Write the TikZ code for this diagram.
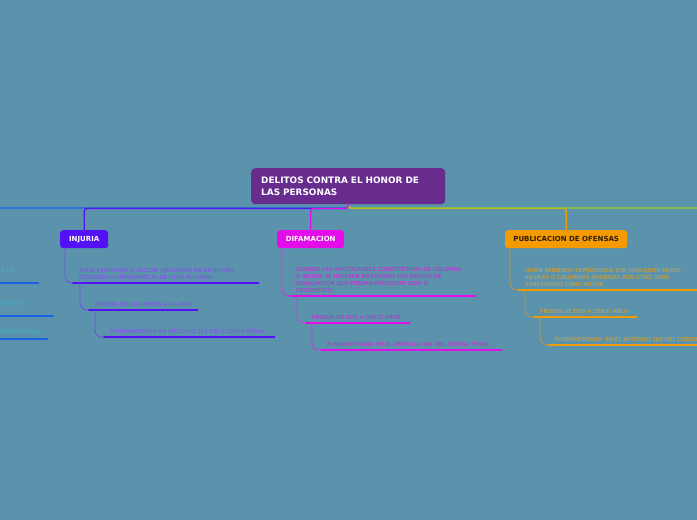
\documentclass[tikz,border=0pt]{standalone}
\usepackage{fontspec}
\setmainfont{DejaVu Sans}
\usetikzlibrary{positioning}
\definecolor{board}    {HTML}{5B93AD}
\definecolor{rootfill} {HTML}{682C8E}
\definecolor{injc}     {HTML}{5511F5}
\definecolor{difc}     {HTML}{E40CE8}
\definecolor{pubc}     {HTML}{F49A02}
\definecolor{leftc}    {HTML}{1A5FE6}
\definecolor{rightc}   {HTML}{96CF24}
\definecolor{injtext}  {HTML}{8B45F2}
\definecolor{diftext}  {HTML}{D11ED6}
\definecolor{pubtext}  {HTML}{E9A21A}
\definecolor{lefttext} {HTML}{3CB4C6}
\definecolor{injline}  {HTML}{6B4FE3}
\definecolor{difline}  {HTML}{C63CD2}
\definecolor{publine}  {HTML}{C19445}
\tikzset{
  every node/.style={font=\fontsize{5.5}{7}\selectfont},
  % --- nodes
  rootbox/.style = {rounded corners=4pt, fill=rootfill, text=white, align=left,
                    anchor=north west, minimum width=194pt, minimum height=36pt,
                    text width=174pt, inner xsep=10pt,
                    font=\fontsize{8.9}{11.5}\selectfont\bfseries},
  topic/.style   = {rounded corners=3pt, anchor=north west, minimum height=18pt,
                    inner sep=0pt, text=white,
                    font=\fontsize{7}{8}\selectfont\bfseries},
  leaf/.style    = {anchor=south west, align=left, inner xsep=6pt, inner ysep=3pt},
  far/.style     = {anchor=base east, inner sep=0pt, text=lefttext},
  % --- edges
  hub/.style     = {line width=1.3pt, rounded corners=3pt},
  link/.style    = {line width=0.8pt, rounded corners=7pt},
  ul/.style      = {line width=2.6pt, line cap=round},
}
\begin{document}
\begin{tikzpicture}[x=1pt,y=-1pt]
  \useasboundingbox (0,0) rectangle (697,520);
  \clip (0,0) rectangle (697,520);
  \fill[board] (0,0) rectangle (697,520);

  % --- central topic and branches
  \node[rootbox] (root) at (251,168) {DELITOS CONTRA EL HONOR DE\\LAS PERSONAS};
  \node[topic, fill=injc, minimum width=48pt] (inj) at (60,230) {INJURIA};
  \node[topic, fill=difc, minimum width=67pt] (dif) at (277,230) {DIFAMACION};
  \node[topic, fill=pubc, minimum width=122pt, text=black!80!pubc] (pub) at (505,230)
    {PUBLICACION DE OFENSAS};
  \coordinate (westend) at (-30,208);
  \coordinate (eastend) at (730,208);

  \draw[hub, leftc] (root.south) |- (westend);
  \draw[hub, pubc] (root.south) -- ++(0,4) -| (pub.north);
  \draw[hub, injc] (root.south) -- ++(0,4) -| (inj.north);
  \draw[hub, rightc] (root.south) |- (eastend);
  \draw[hub, difc] (root.south) -- ++(0,4) -| (dif.north);

  % --- injuria
  \node[leaf, text width=173pt, text=injtext] (inj1) at (73,283)
    {TODA EXPRESION O ACCION\ \ EJECUTADA EN DESHONRA,\\DESCREDITO MENOSPRECIO DE OTRA PERSONA};
  \node[leaf, text width=96pt, text=injtext] (inj2) at (89,310) {PRISION DE DOS MESES A UN AÑO};
  \node[leaf, text width=158pt, text=injtext] (inj3) at (104,337)
    {FUNDAMENTADO EN ARTICULO 161 DEL CODIGO PENAL};
  \foreach \n in {inj1,inj2,inj3}
    \draw[ul, injc] (\n.south west) -- (\n.south east);
  \draw[link, injline] ([xshift=5pt]inj.south west) |- (inj1.south west);
  \draw[link, injline] ([xshift=7pt]inj1.south west) |- (inj2.south west);
  \draw[link, injline] ([xshift=6pt]inj2.south west) |- (inj3.south west);

  % --- difamacion
  \node[leaf, text width=173pt, text=diftext] (dif1) at (290,296)
    {CUANDO LAS IMPUTACIONES CONSTITUTIVAS DE CALUMNIA\\O INJURIA SE HICIEREN EN FORMAO POR MEDIOS DE\\DIVULGACION QUE PUEDAN PROVOCAR ODIO O\\DESCREDITO.};
  \node[leaf, text width=91pt, text=diftext] (dif2) at (306,323) {PRISION DE DOS A CINCO AÑOS.};
  \node[leaf, text width=168pt, text=diftext] (dif3) at (321,350)
    {FUNDAMENTADO EN EL ARTICULO 164 DEL CODIGO PENAL.};
  \foreach \n in {dif1,dif2,dif3}
    \draw[ul, difc] (\n.south west) -- (\n.south east);
  \draw[link, difline] ([xshift=5pt]dif.south west) |- (dif1.south west);
  \draw[link, difline] ([xshift=7pt]dif1.south west) |- (dif2.south west);
  \draw[link, difline] ([xshift=6pt]dif2.south west) |- (dif3.south west);

  % --- publicacion de ofensas
  \node[leaf, text width=190pt, text=pubtext] (pub1) at (519,290)
    {QUIEN SABIENDO REPRODUSCA POR CUALQUIER MEDIO,\\INJURIAS O CALUMNIAS INFERIDAS POR OTRO, SERA\\SANCIONADO COMO AUTOR.};
  \node[leaf, text width=90pt, text=pubtext] (pub2) at (534,317) {PRISION DE DOS A CINCO AÑOS};
  \node[leaf, text width=190pt, text=pubtext] (pub3) at (549,345)
    {FUNDAMENTADO\ \ EN EL ARTICULO 165 DEL CODIGO PENAL.};
  \foreach \n in {pub1,pub2,pub3}
    \draw[ul, pubc] (\n.south west) -- (\n.south east);
  \draw[link, publine] ([xshift=5pt]pub.south west) |- (pub1.south west);
  \draw[link, publine] ([xshift=6pt]pub1.south west) |- (pub2.south west);
  \draw[link, publine] ([xshift=6pt]pub2.south west) |- (pub3.south west);

  % --- branch cut off at the left edge
  \node[far] (far1) at (15,272) {A UN};
  \node[far] (far2) at (26,305) {MULTA DE};
  \node[far] (far3) at (42,333) {CODIGO PENAL.};
  \draw[ul, leftc] (-10,283) -- (38,283);
  \draw[ul, leftc] (-10,316) -- (53,316);
  \draw[ul, leftc] (-10,339) -- (47,339);
\end{tikzpicture}
\end{document}
